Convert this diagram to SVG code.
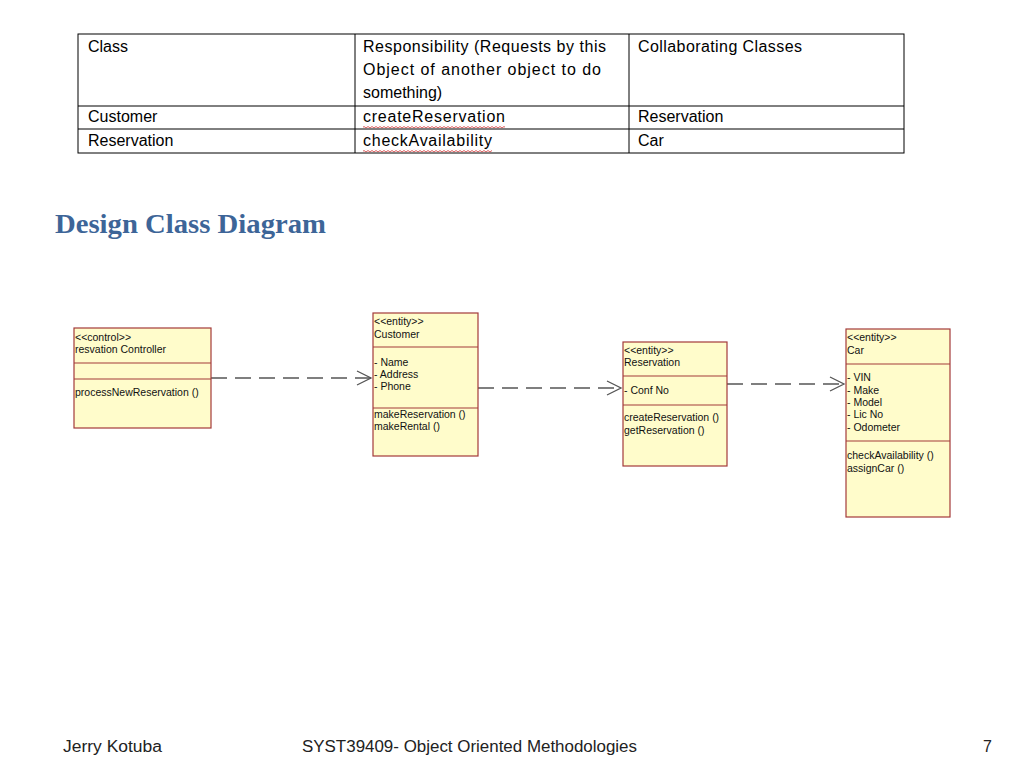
<svg xmlns="http://www.w3.org/2000/svg" width="1024" height="768" viewBox="0 0 1024 768">
<defs>
<style>
.tbl{font-family:"Liberation Sans",Arial,sans-serif;font-size:16px;fill:#000}
.box{fill:#FFFCCB;stroke:#A33A3A;stroke-width:1.2}
.sep{stroke:#A33A3A;stroke-width:1.2}
.t{font-family:"Liberation Sans",Arial,sans-serif;font-size:10.5px;fill:#111}
.conn{stroke:#555;stroke-width:1.3;fill:none;stroke-dasharray:16 8}
.head{stroke:#555;stroke-width:1.3;fill:none}
.foot{font-family:"Liberation Sans",Arial,sans-serif;font-size:16px;fill:#222}
.squig{stroke:#D03030;stroke-width:0.8;fill:none}
</style>
<pattern id="wave" x="0" y="0" width="4" height="3" patternUnits="userSpaceOnUse">
<path d="M0 0.5 L2 2 L4 0.5" stroke="#D03030" stroke-width="0.8" fill="none"/>
</pattern>
</defs>
<rect width="1024" height="768" fill="#fff"/>
<g id="table">
<rect x="78" y="34" width="826" height="119" fill="none" stroke="#000" stroke-width="1"/>
<line x1="355" y1="34" x2="355" y2="153" stroke="#000"/>
<line x1="629" y1="34" x2="629" y2="153" stroke="#000"/>
<line x1="78" y1="106" x2="904" y2="106" stroke="#000"/>
<line x1="78" y1="129" x2="904" y2="129" stroke="#000"/>
<text class="tbl" x="88" y="52">Class</text>
<text class="tbl" x="363" y="52" textLength="243" lengthAdjust="spacing">Responsibility (Requests by this</text>
<text class="tbl" x="363" y="75" textLength="238" lengthAdjust="spacing">Object of another object  to do</text>
<text class="tbl" x="363" y="98">something)</text>
<text class="tbl" x="638" y="52" textLength="164" lengthAdjust="spacing">Collaborating Classes</text>
<text class="tbl" x="88" y="122">Customer</text>
<text class="tbl" x="363" y="122" textLength="142" lengthAdjust="spacing">createReservation</text>
<text class="tbl" x="638" y="122">Reservation</text>
<text class="tbl" x="88" y="146">Reservation</text>
<text class="tbl" x="363" y="146" textLength="129" lengthAdjust="spacing">checkAvailability</text>
<text class="tbl" x="638" y="146">Car</text>
<rect x="363" y="125.5" width="142" height="3" fill="url(#wave)"/>
<rect x="363" y="149.5" width="129" height="3" fill="url(#wave)"/>
</g>
<text id="title" x="55" y="233" font-family="'Liberation Serif','Times New Roman',serif" font-weight="bold" font-size="28" fill="#3D6598" textLength="271" lengthAdjust="spacingAndGlyphs">Design Class Diagram</text>
<g id="connectors">
<line class="conn" x1="211" y1="378" x2="371" y2="378"/>
<polyline class="head" points="357,371 371,378 357,385"/>
<line class="conn" x1="478" y1="388" x2="621" y2="388"/>
<polyline class="head" points="607,381 621,388 607,395"/>
<line class="conn" x1="727" y1="384" x2="844" y2="384"/>
<polyline class="head" points="830,377 844,384 830,391"/>
</g>
<g id="controller">
<rect class="box" x="74" y="328" width="137" height="100"/>
<line class="sep" x1="74" y1="363" x2="211" y2="363"/>
<line class="sep" x1="74" y1="379" x2="211" y2="379"/>
<text class="t" x="75" y="341">&lt;&lt;control&gt;&gt;</text>
<text class="t" x="75" y="353">resvation Controller</text>
<text class="t" x="75" y="396">processNewReservation ()</text>
</g>
<g id="customer">
<rect class="box" x="373" y="313" width="105" height="143"/>
<line class="sep" x1="373" y1="347" x2="478" y2="347"/>
<line class="sep" x1="373" y1="408" x2="478" y2="408"/>
<text class="t" x="374" y="325">&lt;&lt;entity&gt;&gt;</text>
<text class="t" x="374" y="338">Customer</text>
<text class="t" x="374" y="366">- Name</text>
<text class="t" x="374" y="378">- Address</text>
<text class="t" x="374" y="390">- Phone</text>
<text class="t" x="374" y="418">makeReservation ()</text>
<text class="t" x="374" y="430">makeRental ()</text>
</g>
<g id="reservation">
<rect class="box" x="623" y="342" width="104" height="124"/>
<line class="sep" x1="623" y1="376" x2="727" y2="376"/>
<line class="sep" x1="623" y1="405" x2="727" y2="405"/>
<text class="t" x="624" y="354">&lt;&lt;entity&gt;&gt;</text>
<text class="t" x="624" y="366">Reservation</text>
<text class="t" x="624" y="394">- Conf No</text>
<text class="t" x="624" y="421">createReservation ()</text>
<text class="t" x="624" y="434">getReservation ()</text>
</g>
<g id="car">
<rect class="box" x="846" y="329" width="104" height="188"/>
<line class="sep" x1="846" y1="364" x2="950" y2="364"/>
<line class="sep" x1="846" y1="441" x2="950" y2="441"/>
<text class="t" x="847" y="341">&lt;&lt;entity&gt;&gt;</text>
<text class="t" x="847" y="354">Car</text>
<text class="t" x="847" y="381">- VIN</text>
<text class="t" x="847" y="394">- Make</text>
<text class="t" x="847" y="406">- Model</text>
<text class="t" x="847" y="418">- Lic No</text>
<text class="t" x="847" y="431">- Odometer</text>
<text class="t" x="847" y="459">checkAvailability ()</text>
<text class="t" x="847" y="472">assignCar ()</text>
</g>
<g id="footer">
<text class="foot" x="63" y="752" textLength="99" lengthAdjust="spacingAndGlyphs">Jerry Kotuba</text>
<text class="foot" x="302" y="752" textLength="335" lengthAdjust="spacingAndGlyphs">SYST39409- Object Oriented Methodologies</text>
<text class="foot" x="983" y="752">7</text>
</g>
</svg>
